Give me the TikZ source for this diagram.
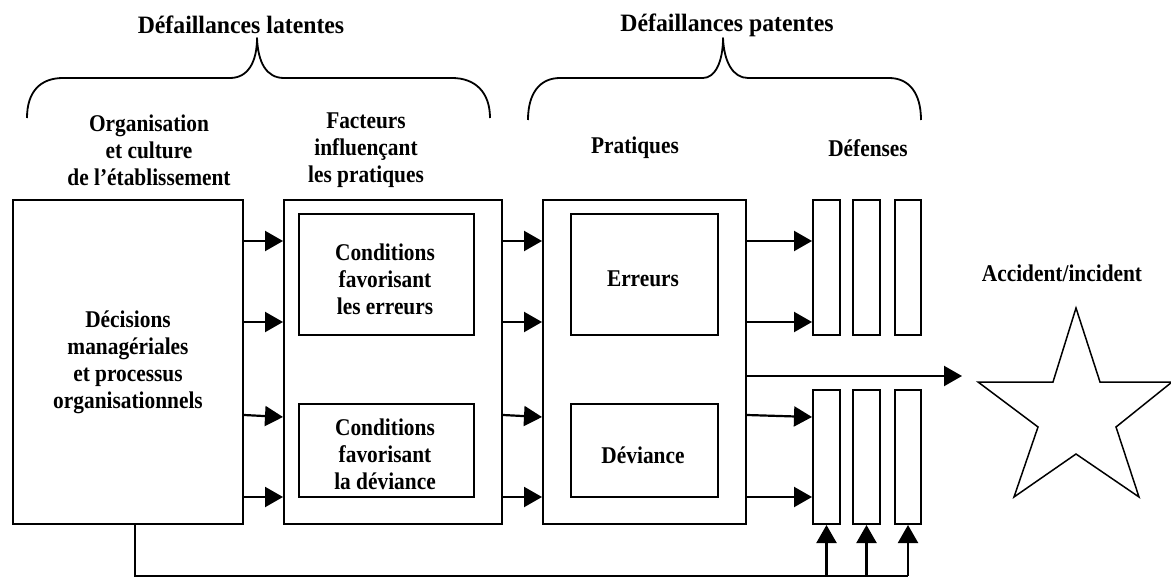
\documentclass[tikz,border=0pt]{standalone}
\usepackage{fontspec}
\setmainfont{Liberation Serif}[FakeStretch=0.89]
\newfontfamily\headfont{Liberation Serif}[FakeStretch=0.95]
\usetikzlibrary{arrows.meta}
\tikzset{
  box/.style={draw, line width=2pt, inner sep=0pt, anchor=north west},
  txt/.style={font=\bfseries\fontsize{24}{27}\selectfont, align=center},
  head/.style={font=\headfont\bfseries\fontsize{25}{27}\selectfont, align=center},
  arr/.style={line width=2.2pt, -{Triangle[length=18pt,width=20pt]}},
  ln/.style={line width=2.2pt},
  brace/.style={line width=1.8pt, line join=round},
  starline/.style={line width=1.5pt, line join=miter},
}
\begin{document}
\begin{tikzpicture}[x=1pt,y=-1pt]
\useasboundingbox (0,0) rectangle (1171,578);

% headers
\node[head] (lat) at (241,25) {Défaillances latentes};
\node[head] (pat) at (727,25) {Défaillances patentes};
\draw[brace] (27,118) .. controls (27,92) and (40,78) .. (63,78) -- (230,78)
  .. controls (248,78) and (257,62) .. (257,38)
  .. controls (258,62) and (266,78) .. (284,78) -- (452,78)
  .. controls (475,78) and (490,92) .. (490,118);
\draw[brace] (528,120) .. controls (528,93) and (540,78) .. (560,78) -- (703,78)
  .. controls (715,78) and (723,62) .. (723,38)
  .. controls (724,62) and (733,78) .. (748,78) -- (889,78)
  .. controls (909,78) and (921,93) .. (921,120);

\node[txt] (h1) at (149,150) {Organisation\\et culture\\de l’établissement};
\node[txt] (h2) at (366,150) {Facteurs\\influençant\\les pratiques};
\node[txt] (h3) at (635,148) {Pratiques};
\node[txt] (h4) at (868,148) {Défenses};

% boxes
\node[box, minimum width=230pt, minimum height=324pt] (b1) at (12,199) {};
\node[txt] (b1t) at (b1.center) {Décisions\\managériales\\et processus\\organisationnels};
\node[box, minimum width=218pt, minimum height=324pt] (b2) at (283,199) {};
\node[box, minimum width=175pt, minimum height=121pt] (ca) at (298,213) {};
\node[txt] (cat) at (385,279) {Conditions\\favorisant\\les erreurs};
\node[box, minimum width=175pt, minimum height=93pt] (cb) at (298,403) {};
\node[txt] (cbt) at (385,454) {Conditions\\favorisant\\la déviance};
\node[box, minimum width=203pt, minimum height=324pt] (b3) at (542,199) {};
\node[box, minimum width=147pt, minimum height=121pt] (er) at (570,213) {};
\node[txt] (ert) at (643,279) {Erreurs};
\node[box, minimum width=147pt, minimum height=93pt] (dv) at (570,403) {};
\node[txt] (dvt) at (643,455) {Déviance};

% defences
\node[box, minimum width=27pt, minimum height=135pt] (d1) at (812,199) {};
\node[box, minimum width=27pt, minimum height=135pt] (d2) at (852,199) {};
\node[box, minimum width=26pt, minimum height=135pt] (d3) at (894,199) {};
\node[box, minimum width=27pt, minimum height=134pt] (d4) at (812,389) {};
\node[box, minimum width=27pt, minimum height=134pt] (d5) at (852,389) {};
\node[box, minimum width=26pt, minimum height=134pt] (d6) at (894,389) {};

% arrows b1 -> b2
\draw[arr] (b1.east |- 0,241) -- (b2.west |- 0,241);
\draw[arr] (b1.east |- 0,322) -- (b2.west |- 0,322);
\draw[arr] (b1.east |- 0,415) -- (b2.west |- 0,417);
\draw[arr] (b1.east |- 0,497) -- (b2.west |- 0,497);
% arrows b2 -> b3
\draw[arr] (b2.east |- 0,241) -- (b3.west |- 0,241);
\draw[arr] (b2.east |- 0,322) -- (b3.west |- 0,322);
\draw[arr] (b2.east |- 0,415) -- (b3.west |- 0,417);
\draw[arr] (b2.east |- 0,497) -- (b3.west |- 0,497);
% arrows b3 -> defences
\draw[arr] (b3.east |- 0,241) -- (d1.west |- 0,241);
\draw[arr] (b3.east |- 0,322) -- (d1.west |- 0,322);
\draw[arr] (b3.east |- 0,415) -- (d4.west |- 0,417);
\draw[arr] (b3.east |- 0,497) -- (d4.west |- 0,497);
% arrow to accident
\coordinate (acc) at (962,376);
\draw[arr] (b3.east |- 0,376) -- (acc);

% feedback line
\coordinate (fb) at (135,576);
\draw[ln] (b1.south -| fb) -- (fb) -- (d6.south |- fb);
\draw[arr] (d4.south |- fb) -- (d4.south);
\draw[arr] (d5.south |- fb) -- (d5.south);
\draw[arr] (d6.south |- fb) -- (d6.south);

% accident star
\node[txt] (acct) at (1062,273) {Accident/incident};
\draw[starline] (1076,308) -- (1100,382) -- (1172,382) -- (1116,427) -- (1139,497)
  -- (1076,454) -- (1014,497) -- (1038,427) -- (978,382) -- (1053,382) -- cycle;
\end{tikzpicture}
\end{document}
